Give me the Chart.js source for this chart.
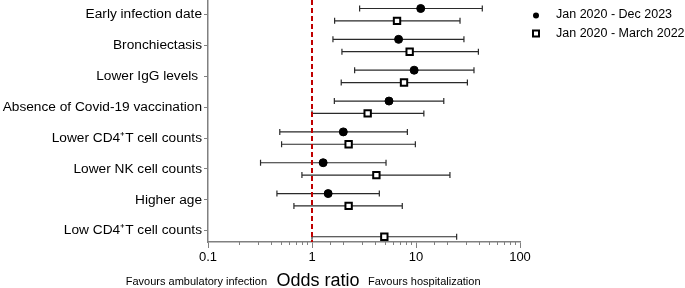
<!DOCTYPE html>
<html>
<head>
<meta charset="utf-8">
<script src="https://cdn.jsdelivr.net/npm/chart.js@4/dist/chart.umd.min.js"></script>
<style>
  body { margin: 0; background: #fff; }
  #wrap { width: 685px; height: 288px; }
</style>
</head>
<body>
<div id="wrap"><canvas id="forest" width="685" height="288"></canvas></div>
<script>
// risk factors, top to bottom
let categories = ["Early infection date", "Bronchiectasis", "Lower IgG levels ", "Absence of Covid-19 vaccination",
    "Lower CD4\u207AT cell counts", "Lower NK cell counts", "Higher age", "Low CD4\u207AT cell counts"];

// Jan 2020 - Dec 2023 (filled circles)
let orLong = [11.1, 6.8, 9.6, 5.5, 2.0, 1.28, 1.43, null];
let loLong = [2.87, 1.59, 2.57, 1.64, 0.49, 0.32, 0.46, null];
let hiLong = [43.4, 28.9, 36.1, 18.5, 8.26, 5.15, 4.44, null];

// Jan 2020 - March 2022 (open squares)
let orShort = [6.57, 8.69, 7.67, 3.43, 2.25, 4.16, 2.25, 4.96];
let loShort = [1.65, 1.94, 1.91, 1.0, 0.51, 0.80, 0.67, 1.0];
let hiShort = [26.5, 39.8, 31.2, 11.9, 9.86, 21.2, 7.38, 24.6];

let seriesNames = ["Jan 2020 - Dec 2023", "Jan 2020 - March 2022"];
let xTicks = [0.1, 1, 10, 100];

const FONT = "'Liberation Sans', Arial, sans-serif";
const AXIS = "#808080";

function makePoints(or, lo, hi, shift) {
    let pts = [];
    for (let i = 0; i < categories.length; i++) {
        if (or[i] == null) continue;
        pts.push({x: or[i], y: i + shift, lo: lo[i], hi: hi[i]});
    }
    return pts;
}

function isPow10(v) {
    let l = Math.log10(v);
    return Math.abs(l - Math.round(l)) < 1e-6;
}

// whiskers + reference line at OR = 1, under the markers
const errorBars = {
    id: "errorBars",
    beforeDatasetsDraw(chart) {
        let ctx = chart.ctx;
        let xs = chart.scales.x, ys = chart.scales.y;
        ctx.save();
        chart.data.datasets.forEach(ds => {
            ds.data.forEach(p => {
                let y = ys.getPixelForValue(p.y);
                let x1 = xs.getPixelForValue(p.lo);
                let x2 = xs.getPixelForValue(p.hi);
                ctx.strokeStyle = "#2a2a2a";
                ctx.lineWidth = 1.2;
                ctx.beginPath();
                ctx.moveTo(x1, y); ctx.lineTo(x2, y);
                ctx.moveTo(x1, y - 3); ctx.lineTo(x1, y + 3);
                ctx.moveTo(x2, y - 3); ctx.lineTo(x2, y + 3);
                ctx.stroke();
            });
        });
        let xr = xs.getPixelForValue(1);
        ctx.strokeStyle = "#c00000";
        ctx.lineWidth = 2;
        ctx.setLineDash([5, 3]);
        ctx.beginPath();
        ctx.moveTo(xr, chart.chartArea.top);
        ctx.lineTo(xr, chart.chartArea.bottom);
        ctx.stroke();
        ctx.restore();
    },
    afterDraw(chart) {
        let ctx = chart.ctx;
        let xs = chart.scales.x;
        let bottom = chart.chartArea.bottom;
        ctx.save();
        // minor ticks
        ctx.strokeStyle = AXIS;
        ctx.lineWidth = 1;
        xs.ticks.forEach(t => {
            if (isPow10(t.value)) return;
            let x = Math.round(xs.getPixelForValue(t.value)) + 0.5;
            ctx.beginPath();
            ctx.moveTo(x, bottom);
            ctx.lineTo(x, bottom + 3);
            ctx.stroke();
        });
        // axis title and direction hints
        ctx.fillStyle = "#000";
        ctx.textBaseline = "middle";
        ctx.textAlign = "center";
        ctx.font = "18px " + FONT;
        ctx.fillText("Odds ratio", 318, 281);
        ctx.font = "11px " + FONT;
        ctx.textAlign = "right";
        ctx.fillText("Favours ambulatory infection", 267, 282);
        ctx.textAlign = "left";
        ctx.fillText("Favours hospitalization", 368, 282);
        // legend
        ctx.font = "12.5px " + FONT;
        ctx.fillStyle = "#000";
        ctx.beginPath();
        ctx.arc(536, 15.5, 3, 0, Math.PI * 2);
        ctx.fill();
        ctx.fillText(seriesNames[0], 556, 15);
        ctx.strokeStyle = "#000";
        ctx.lineWidth = 2;
        ctx.strokeRect(533, 30.5, 6, 6);
        ctx.fillText(seriesNames[1], 556, 34);
        ctx.restore();
    }
};

new Chart(document.getElementById("forest"), {
    type: "scatter",
    data: {
        datasets: [{
            label: seriesNames[0],
            data: makePoints(orLong, loLong, hiLong, -0.2),
            pointStyle: "circle",
            pointRadius: 4,
            pointBackgroundColor: "#000",
            pointBorderColor: "#000",
            pointBorderWidth: 1
        }, {
            label: seriesNames[1],
            data: makePoints(orShort, loShort, hiShort, 0.2),
            pointStyle: "rect",
            pointRadius: 4.5,
            pointBackgroundColor: "#fff",
            pointBorderColor: "#000",
            pointBorderWidth: 2
        }]
    },
    options: {
        responsive: false,
        animation: false,
        layout: {autoPadding: false, padding: {left: 0, right: 165, top: 0, bottom: 0}},
        plugins: {
            legend: {display: false},
            tooltip: {enabled: false}
        },
        scales: {
            x: {
                type: "logarithmic",
                min: 0.1,
                max: 100,
                afterFit: s => { s.height = 46; s.paddingLeft = 0; s.paddingRight = 0; },
                border: {color: AXIS, width: 1.5},
                grid: {
                    drawOnChartArea: false,
                    tickLength: 6,
                    tickColor: c => (c.tick && isPow10(c.tick.value)) ? AXIS : "rgba(0,0,0,0)"
                },
                ticks: {
                    autoSkip: false,
                    maxRotation: 0,
                    padding: 2,
                    color: "#000",
                    font: {family: FONT, size: 13},
                    callback: v => (isPow10(v) && xTicks.some(t => Math.abs(t - v) < 1e-9)) ? String(v) : ""
                }
            },
            y: {
                type: "linear",
                reverse: true,
                min: -0.476,
                max: 7.37,
                afterFit: s => { s.width = 208; s.paddingTop = 0; s.paddingBottom = 0; },
                afterBuildTicks: s => { s.ticks = categories.map((c, i) => ({value: i})); },
                border: {color: AXIS, width: 1.5},
                grid: {drawOnChartArea: false, tickLength: 4, tickColor: AXIS},
                ticks: {
                    padding: 2,
                    color: "#000",
                    font: {family: FONT, size: 13.7},
                    callback: v => categories[v]
                }
            }
        }
    },
    plugins: [errorBars]
});
</script>
</body>
</html>
